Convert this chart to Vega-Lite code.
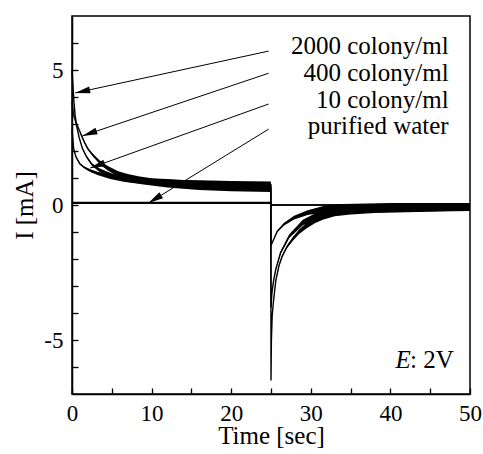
{
  "$schema": "https://vega.github.io/schema/vega-lite/v6.json",
  "width": 398,
  "height": 378,
  "autosize": "none",
  "padding": {"left": 72, "top": 16, "right": 13, "bottom": 60},
  "background": "white",
  "config": {
    "view": {"stroke": "black", "strokeWidth": 1.5},
    "font": "Liberation Serif",
    "axis": {
      "domainColor": "black", "domainWidth": 1.5,
      "ticks": true, "tickSize": -6, "tickColor": "black", "tickWidth": 1.3, "tickOpacity": 1,
      "grid": false,
      "labelColor": "black", "titleColor": "black",
      "labelFont": "Liberation Serif", "titleFont": "Liberation Serif",
      "labelFontSize": 23, "titleFontSize": 25, "titleFontWeight": "normal",
      "labelFlush": false, "labelOverlap": false
    }
  },
  "datasets": {
    "curves": [
      {"s":"a","t":0,"I":5.0,"lo":5.0,"hi":5.0},
      {"s":"a","t":0.1,"I":4.5,"lo":4.5,"hi":4.5},
      {"s":"a","t":0.25,"I":3.8,"lo":3.8,"hi":3.8},
      {"s":"a","t":0.4,"I":3.3,"lo":3.3,"hi":3.3},
      {"s":"a","t":0.6,"I":2.9,"lo":2.9,"hi":2.9},
      {"s":"a","t":0.9,"I":2.5,"lo":2.5,"hi":2.5},
      {"s":"a","t":1.3,"I":2.1,"lo":2.08,"hi":2.12},
      {"s":"a","t":1.8,"I":1.8,"lo":1.76,"hi":1.84},
      {"s":"a","t":2.5,"I":1.5,"lo":1.45,"hi":1.55},
      {"s":"a","t":3.5,"I":1.28,"lo":1.21,"hi":1.35},
      {"s":"a","t":5,"I":1.08,"lo":0.99,"hi":1.17},
      {"s":"a","t":7,"I":0.95,"lo":0.85,"hi":1.05},
      {"s":"a","t":10,"I":0.86,"lo":0.75,"hi":0.97},
      {"s":"a","t":13,"I":0.82,"lo":0.71,"hi":0.93},
      {"s":"a","t":16,"I":0.8,"lo":0.68,"hi":0.92},
      {"s":"a","t":20,"I":0.77,"lo":0.65,"hi":0.89},
      {"s":"a","t":24.98,"I":0.75,"lo":0.63,"hi":0.87},
      {"s":"a","t":25,"I":-6.5,"lo":-6.5,"hi":-6.5},
      {"s":"a","t":25.05,"I":-5.0,"lo":-5.0,"hi":-5.0},
      {"s":"a","t":25.15,"I":-4.1,"lo":-4.1,"hi":-4.1},
      {"s":"a","t":25.3,"I":-3.6,"lo":-3.6,"hi":-3.6},
      {"s":"a","t":25.6,"I":-2.8,"lo":-2.8,"hi":-2.8},
      {"s":"a","t":26,"I":-2.25,"lo":-2.28,"hi":-2.22},
      {"s":"a","t":26.4,"I":-1.9,"lo":-1.94,"hi":-1.86},
      {"s":"a","t":27,"I":-1.55,"lo":-1.6,"hi":-1.5},
      {"s":"a","t":27.7,"I":-1.27,"lo":-1.34,"hi":-1.2},
      {"s":"a","t":28.5,"I":-1.0,"lo":-1.08,"hi":-0.92},
      {"s":"a","t":29.4,"I":-0.78,"lo":-0.88,"hi":-0.68},
      {"s":"a","t":30.5,"I":-0.56,"lo":-0.68,"hi":-0.44},
      {"s":"a","t":31.5,"I":-0.42,"lo":-0.55,"hi":-0.29},
      {"s":"a","t":33,"I":-0.28,"lo":-0.42,"hi":-0.14},
      {"s":"a","t":35,"I":-0.2,"lo":-0.35,"hi":-0.05},
      {"s":"a","t":38,"I":-0.15,"lo":-0.3,"hi":0.0},
      {"s":"a","t":42,"I":-0.12,"lo":-0.27,"hi":0.03},
      {"s":"a","t":46,"I":-0.1,"lo":-0.24,"hi":0.04},
      {"s":"a","t":50,"I":-0.09,"lo":-0.22,"hi":0.04},

      {"s":"b","t":0,"I":3.8,"lo":3.8,"hi":3.8},
      {"s":"b","t":0.2,"I":3.35,"lo":3.35,"hi":3.35},
      {"s":"b","t":0.5,"I":3.05,"lo":3.05,"hi":3.05},
      {"s":"b","t":0.8,"I":2.85,"lo":2.85,"hi":2.85},
      {"s":"b","t":1.2,"I":2.57,"lo":2.55,"hi":2.59},
      {"s":"b","t":1.6,"I":2.3,"lo":2.27,"hi":2.33},
      {"s":"b","t":2,"I":2.08,"lo":2.04,"hi":2.12},
      {"s":"b","t":2.7,"I":1.82,"lo":1.77,"hi":1.87},
      {"s":"b","t":3.7,"I":1.52,"lo":1.45,"hi":1.59},
      {"s":"b","t":4.5,"I":1.36,"lo":1.28,"hi":1.44},
      {"s":"b","t":5.8,"I":1.15,"lo":1.05,"hi":1.25},
      {"s":"b","t":7,"I":1.04,"lo":0.93,"hi":1.15},
      {"s":"b","t":8.5,"I":0.95,"lo":0.84,"hi":1.06},
      {"s":"b","t":10,"I":0.88,"lo":0.77,"hi":0.99},
      {"s":"b","t":13,"I":0.82,"lo":0.7,"hi":0.94},
      {"s":"b","t":16,"I":0.77,"lo":0.65,"hi":0.89},
      {"s":"b","t":20,"I":0.72,"lo":0.6,"hi":0.84},
      {"s":"b","t":24.98,"I":0.7,"lo":0.58,"hi":0.82},
      {"s":"b","t":25,"I":-3.8,"lo":-3.8,"hi":-3.8},
      {"s":"b","t":25.1,"I":-3.3,"lo":-3.3,"hi":-3.3},
      {"s":"b","t":25.3,"I":-2.85,"lo":-2.85,"hi":-2.85},
      {"s":"b","t":25.6,"I":-2.38,"lo":-2.4,"hi":-2.36},
      {"s":"b","t":26.2,"I":-1.77,"lo":-1.82,"hi":-1.72},
      {"s":"b","t":27.3,"I":-1.15,"lo":-1.22,"hi":-1.08},
      {"s":"b","t":29,"I":-0.65,"lo":-0.75,"hi":-0.55},
      {"s":"b","t":31,"I":-0.37,"lo":-0.5,"hi":-0.24},
      {"s":"b","t":34,"I":-0.18,"lo":-0.33,"hi":-0.03},
      {"s":"b","t":38,"I":-0.12,"lo":-0.27,"hi":0.02},
      {"s":"b","t":44,"I":-0.1,"lo":-0.24,"hi":0.04},
      {"s":"b","t":50,"I":-0.08,"lo":-0.2,"hi":0.04},

      {"s":"c","t":0,"I":2.8,"lo":2.8,"hi":2.8},
      {"s":"c","t":0.2,"I":2.1,"lo":2.1,"hi":2.1},
      {"s":"c","t":0.5,"I":1.78,"lo":1.77,"hi":1.79},
      {"s":"c","t":1,"I":1.52,"lo":1.49,"hi":1.55},
      {"s":"c","t":1.6,"I":1.38,"lo":1.34,"hi":1.42},
      {"s":"c","t":2.3,"I":1.27,"lo":1.22,"hi":1.32},
      {"s":"c","t":3.2,"I":1.17,"lo":1.11,"hi":1.23},
      {"s":"c","t":4.8,"I":1.04,"lo":0.96,"hi":1.12},
      {"s":"c","t":6.5,"I":0.95,"lo":0.86,"hi":1.04},
      {"s":"c","t":9,"I":0.86,"lo":0.76,"hi":0.96},
      {"s":"c","t":12,"I":0.76,"lo":0.65,"hi":0.87},
      {"s":"c","t":16,"I":0.68,"lo":0.56,"hi":0.8},
      {"s":"c","t":20,"I":0.63,"lo":0.51,"hi":0.75},
      {"s":"c","t":24.98,"I":0.6,"lo":0.48,"hi":0.72},
      {"s":"c","t":25,"I":-1.5,"lo":-1.5,"hi":-1.5},
      {"s":"c","t":25.15,"I":-1.4,"lo":-1.41,"hi":-1.39},
      {"s":"c","t":25.8,"I":-0.97,"lo":-1.0,"hi":-0.94},
      {"s":"c","t":26.6,"I":-0.72,"lo":-0.77,"hi":-0.67},
      {"s":"c","t":27.9,"I":-0.47,"lo":-0.54,"hi":-0.4},
      {"s":"c","t":29.6,"I":-0.28,"lo":-0.37,"hi":-0.19},
      {"s":"c","t":31.6,"I":-0.16,"lo":-0.28,"hi":-0.04},
      {"s":"c","t":34,"I":-0.08,"lo":-0.2,"hi":0.04},
      {"s":"c","t":40,"I":-0.05,"lo":-0.17,"hi":0.07},
      {"s":"c","t":50,"I":-0.05,"lo":-0.17,"hi":0.07},

      {"s":"w","t":0,"I":0.08,"lo":0.04,"hi":0.12},
      {"s":"w","t":24.98,"I":0.08,"lo":0.04,"hi":0.12},
      {"s":"w","t":25,"I":0.0,"lo":-0.03,"hi":0.03},
      {"s":"w","t":50,"I":0.0,"lo":-0.03,"hi":0.03}
    ],
    "labels": [
      {"label":"2000 colony/ml","t":47.32,"I":5.58},
      {"label":"400 colony/ml","t":47.32,"I":4.59},
      {"label":"10 colony/ml","t":47.32,"I":3.6},
      {"label":"purified water","t":47.32,"I":2.63}
    ],
    "arrows": [
      {"n":1,"t":24.7,"I":5.7,"t2":0.4,"I2":4.15},
      {"n":2,"t":24.7,"I":4.88,"t2":1.3,"I2":2.56},
      {"n":3,"t":24.7,"I":3.74,"t2":2.3,"I2":1.37},
      {"n":4,"t":24.7,"I":2.81,"t2":9.6,"I2":0.07}
    ],
    "xmajor": [{"v":10},{"v":20},{"v":30},{"v":40}],
    "xminor": [{"v":5},{"v":15},{"v":25},{"v":35},{"v":45}],
    "ymajor": [{"v":-5},{"v":0},{"v":5}],
    "yminor": [{"v":-6},{"v":-4},{"v":-3},{"v":-2},{"v":-1},{"v":1},{"v":2},{"v":3},{"v":4},{"v":6}]
  },
  "encoding": {
    "x": {
      "field": "t", "type": "quantitative",
      "scale": {"domain": [0, 50], "nice": false, "zero": false},
      "axis": {
        "orient": "bottom", "title": "Time [sec]",
        "values": [0,5,10,15,20,25,30,35,40,45,50],
        "labelExpr": "datum.value % 10 === 0 ? '' + datum.value : ''",
        "labelPadding": 14, "titlePadding": -2
      }
    },
    "y": {
      "field": "I", "type": "quantitative",
      "scale": {"domain": [-7, 7], "nice": false, "zero": false},
      "axis": {
        "orient": "left", "title": "I [mA]",
        "values": [-6,-5,-4,-3,-2,-1,0,1,2,3,4,5,6],
        "labelExpr": "datum.value % 5 === 0 ? '' + datum.value : ''",
        "labelPadding": 15, "titlePadding": 6
      }
    }
  },
  "layer": [
    {
      "data": {"name": "xmajor"},
      "mark": {"type": "tick", "orient": "vertical", "color": "black", "opacity": 1, "thickness": 1.3, "size": 12, "yOffset": -6},
      "encoding": {"x": {"field": "v", "type": "quantitative"}, "y": {"datum": -7}}
    },
    {
      "data": {"name": "xmajor"},
      "mark": {"type": "tick", "orient": "vertical", "color": "black", "opacity": 1, "thickness": 1.3, "size": 12, "yOffset": 6},
      "encoding": {"x": {"field": "v", "type": "quantitative"}, "y": {"datum": 7}}
    },
    {
      "data": {"name": "xminor"},
      "mark": {"type": "tick", "orient": "vertical", "color": "black", "opacity": 1, "thickness": 1.3, "size": 6, "yOffset": -3},
      "encoding": {"x": {"field": "v", "type": "quantitative"}, "y": {"datum": -7}}
    },
    {
      "data": {"name": "xminor"},
      "mark": {"type": "tick", "orient": "vertical", "color": "black", "opacity": 1, "thickness": 1.3, "size": 6, "yOffset": 3},
      "encoding": {"x": {"field": "v", "type": "quantitative"}, "y": {"datum": 7}}
    },
    {
      "data": {"name": "ymajor"},
      "mark": {"type": "tick", "orient": "horizontal", "color": "black", "opacity": 1, "thickness": 1.3, "size": 12, "xOffset": 6},
      "encoding": {"y": {"field": "v", "type": "quantitative"}, "x": {"datum": 0}}
    },
    {
      "data": {"name": "ymajor"},
      "mark": {"type": "tick", "orient": "horizontal", "color": "black", "opacity": 1, "thickness": 1.3, "size": 12, "xOffset": -6},
      "encoding": {"y": {"field": "v", "type": "quantitative"}, "x": {"datum": 50}}
    },
    {
      "data": {"name": "yminor"},
      "mark": {"type": "tick", "orient": "horizontal", "color": "black", "opacity": 1, "thickness": 1.3, "size": 6, "xOffset": 3},
      "encoding": {"y": {"field": "v", "type": "quantitative"}, "x": {"datum": 0}}
    },
    {
      "data": {"name": "yminor"},
      "mark": {"type": "tick", "orient": "horizontal", "color": "black", "opacity": 1, "thickness": 1.3, "size": 6, "xOffset": -3},
      "encoding": {"y": {"field": "v", "type": "quantitative"}, "x": {"datum": 50}}
    },
    {
      "data": {"name": "curves"},
      "mark": {"type": "area", "color": "black", "opacity": 1},
      "encoding": {
        "detail": {"field": "s"},
        "y": {"field": "lo", "type": "quantitative"},
        "y2": {"field": "hi"}
      }
    },
    {
      "data": {"name": "curves"},
      "mark": {"type": "line", "color": "black", "strokeWidth": 1.4},
      "encoding": {"detail": {"field": "s"}}
    },
    {
      "data": {"name": "arrows"},
      "mark": {"type": "rule", "color": "black", "strokeWidth": 1},
      "encoding": {"x2": {"field": "t2"}, "y2": {"field": "I2"}}
    },
    {
      "data": {"name": "arrows"},
      "transform": [{"filter": "datum.n === 1"}],
      "mark": {"type": "point", "shape": "M0,0L-0.23,1L0.23,1Z", "size": 900, "filled": true, "color": "black", "opacity": 1, "angle": 257.8},
      "encoding": {"x": {"field": "t2", "type": "quantitative"}, "y": {"field": "I2", "type": "quantitative"}}
    },
    {
      "data": {"name": "arrows"},
      "transform": [{"filter": "datum.n === 2"}],
      "mark": {"type": "point", "shape": "M0,0L-0.23,1L0.23,1Z", "size": 900, "filled": true, "color": "black", "opacity": 1, "angle": 251.4},
      "encoding": {"x": {"field": "t2", "type": "quantitative"}, "y": {"field": "I2", "type": "quantitative"}}
    },
    {
      "data": {"name": "arrows"},
      "transform": [{"filter": "datum.n === 3"}],
      "mark": {"type": "point", "shape": "M0,0L-0.23,1L0.23,1Z", "size": 900, "filled": true, "color": "black", "opacity": 1, "angle": 250.3},
      "encoding": {"x": {"field": "t2", "type": "quantitative"}, "y": {"field": "I2", "type": "quantitative"}}
    },
    {
      "data": {"name": "arrows"},
      "transform": [{"filter": "datum.n === 4"}],
      "mark": {"type": "point", "shape": "M0,0L-0.23,1L0.23,1Z", "size": 900, "filled": true, "color": "black", "opacity": 1, "angle": 238.4},
      "encoding": {"x": {"field": "t2", "type": "quantitative"}, "y": {"field": "I2", "type": "quantitative"}}
    },
    {
      "data": {"name": "labels"},
      "mark": {"type": "text", "align": "right", "baseline": "alphabetic", "font": "Liberation Serif", "fontSize": 25, "color": "black"},
      "encoding": {"text": {"field": "label"}}
    },
    {
      "data": {"values": [{"label": ": 2V", "t": 47.95, "I": -6.03}]},
      "mark": {"type": "text", "align": "right", "baseline": "alphabetic", "font": "Liberation Serif", "fontSize": 25, "color": "black"},
      "encoding": {"text": {"field": "label"}}
    },
    {
      "data": {"values": [{"label": "E", "t": 42.55, "I": -6.03}]},
      "mark": {"type": "text", "align": "right", "baseline": "alphabetic", "font": "Liberation Serif", "fontSize": 25, "fontStyle": "italic", "color": "black"},
      "encoding": {"text": {"field": "label"}}
    }
  ]
}
